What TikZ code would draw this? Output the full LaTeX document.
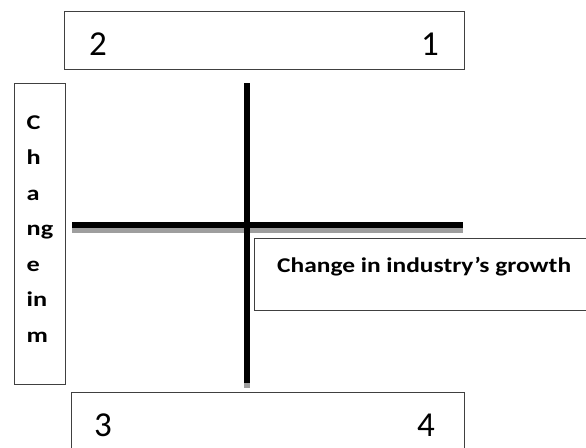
\documentclass[tikz,border=0pt]{standalone}
\usepackage{fontspec}
\setmainfont{Carlito}
\begin{document}
\begin{tikzpicture}[x=1pt,y=-1pt,
  frame/.style={draw=black!75, line width=1pt, inner sep=0pt, anchor=north west},
  axis/.style={line width=6pt, black},
  axisshadow/.style={line width=6pt, black!38},
  num/.style={font=\fontsize{35}{40}\selectfont, anchor=base west, inner sep=0pt},
  vlet/.style={font=\fontsize{21}{24}\selectfont\bfseries, anchor=base west, inner sep=0pt, xscale=1.25},
  lbl/.style={font=\fontsize{21}{24}\selectfont\bfseries, anchor=base west, inner sep=0pt, xscale=1.21}]
\useasboundingbox (0,0) rectangle (586,447);
\clip (0,0) rectangle (586,447);
% boxes
\node[frame, minimum width=400pt, minimum height=58pt] (top) at (64,11) {};
\node[frame, minimum width=393pt, minimum height=70pt] (bot) at (71,392) {};
\node[frame, minimum width=51pt, minimum height=301pt] (left) at (13.5,82.5) {};
\node[frame, minimum width=340pt, minimum height=72pt] (right) at (254,238) {};
% numbers
\node[num] (n2) at (89,55) {2};
\node[num] (n1) at (421,55) {1};
\node[num] (n3) at (94,436.5) {3};
\node[num] (n4) at (417,436.5) {4};
% vertical letters
\node[vlet] (l1) at (26.5,129) {C};
\node[vlet] (l2) at (26.5,164.5) {h};
\node[vlet] (l3) at (26.5,200) {a};
\node[vlet] (l4) at (26.5,235.5) {ng};
\node[vlet] (l5) at (26.5,271) {e};
\node[vlet] (l6) at (26.5,306.5) {in};
\node[vlet] (l7) at (26.5,342) {m};
% label
\node[lbl] (lab) at (277,272) {Change in industry’s growth};
% axes
\coordinate (hl) at (72,225);
\coordinate (hr) at (463,225);
\coordinate (vt) at (246.5,83);
\coordinate (vb) at (246.5,383);
\coordinate (hls) at (72,230);
\coordinate (hrs) at (463,230);
\coordinate (vts) at (246.5,88);
\coordinate (vbs) at (246.5,388);
\draw[axisshadow] (hls) -- (hrs);
\draw[axisshadow] (vts) -- (vbs);
\draw[axis] (hl) -- (hr);
\draw[axis] (vt) -- (vb);
\end{tikzpicture}
\end{document}
